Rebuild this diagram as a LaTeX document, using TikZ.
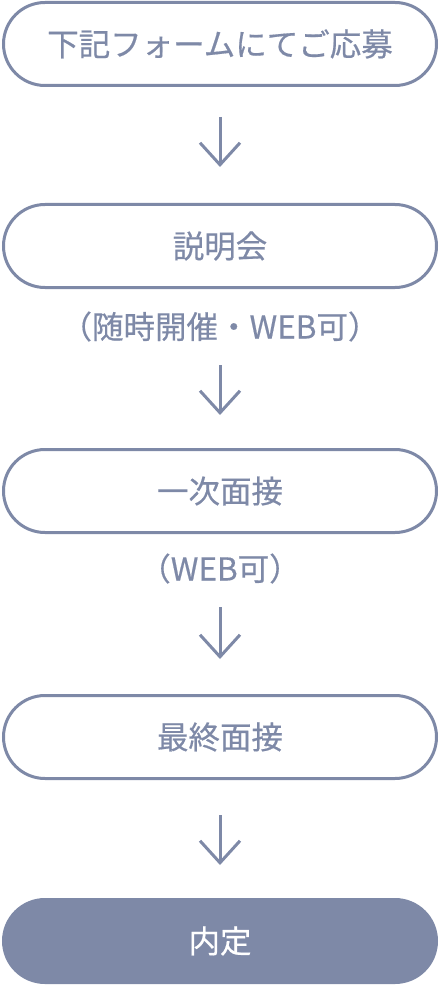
\documentclass[tikz,border=0pt]{standalone}
\usepackage{fontspec}
\usepackage{tikz}
\usepackage{xcolor}
\usetikzlibrary{positioning}
\usetikzlibrary{arrows.meta}
\usetikzlibrary{shapes.misc}
\newfontfamily\jpfont[FakeBold=0.5]{Noto Sans CJK JP}
\definecolor{flowblue}{HTML}{7E89A7}

\begin{document}
\begin{tikzpicture}[>={Straight Barb[length=22pt,width=40pt]},
        line width=3pt,
        stage/.style={
        draw=flowblue,
        rounded rectangle,
        minimum width=433pt,
        minimum height=83pt,
        inner sep=0pt,
        text=flowblue,
        font=\jpfont\fontsize{31.5}{36}\selectfont},
        goal/.style={stage, fill=flowblue, text=white},
        note/.style={
        text=flowblue,
        inner sep=0pt,
        outer sep=0pt,
        text height=27pt,
        text depth=4pt,
        font=\jpfont\fontsize{31.5}{36}\selectfont},
        flow/.style={->, draw=flowblue}]

        \useasboundingbox (0,0) rectangle (440pt,-992pt);
        \node[stage] (apply) at (220pt,-44pt) {下記フォームにてご応募};
        \node[stage] (brief) [below=116pt of apply] {説明会};
        \node[note] (briefnote) [below=22.5pt of brief] {（随時開催・WEB可）};
        \node[stage] (first) [below=105.5pt of briefnote] {一次面接};
        \node[note] (firstnote) [below=19.5pt of first] {（WEB可）};
        \node[stage] (final) [below=109.5pt of firstnote] {最終面接};
        \node[goal] (offer) [below=118pt of final] {内定};

        \path (apply) edge [flow, shorten <=30pt, shorten >=36pt] (brief); % apply->brief
        \path (briefnote) edge [flow, shorten <=22.5pt, shorten >=33pt] (first);
        \path (firstnote) edge [flow, shorten <=22.5pt, shorten >=35pt] (final);
        \path (final) edge [flow, shorten <=35pt, shorten >=33pt] (offer); % final->offer
\end{tikzpicture}
\end{document}
